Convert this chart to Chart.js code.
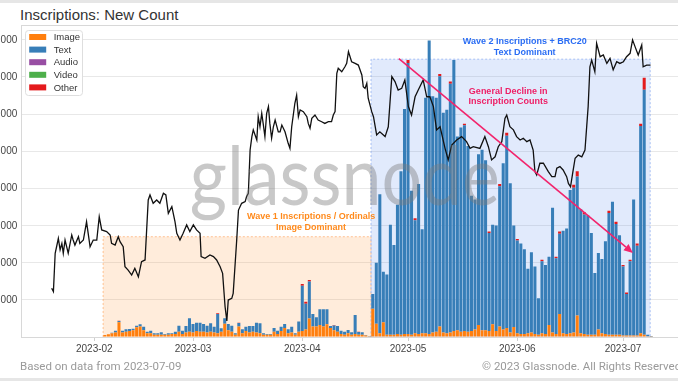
<!DOCTYPE html>
<html>
<head>
<meta charset="utf-8">
<script src="https://cdn.jsdelivr.net/npm/chart.js@4.4.1/dist/chart.umd.min.js"></script>
<style>
  html, body { margin: 0; padding: 0; }
  body { width: 678px; height: 381px; overflow: hidden; background: #e6e6e6; position: relative;
         font-family: "Liberation Sans", Arial, sans-serif; }
  #card { position: absolute; left: 0; top: 3px; width: 678px; height: 375px; background: #fff; }
  #title { position: absolute; left: 20px; top: 6px; font-size: 15px; color: #333; white-space: nowrap; }
  #wrap { position: absolute; left: -59px; top: 0; width: 750px; height: 381px; }
  .foot { position: absolute; top: 359px; font-family: Roboto, sans-serif; font-size: 11.5px; color: #9a9a9a; white-space: nowrap; }
  .ylab { position: absolute; right: 660.7px; font-size: 10px; line-height: 12px; color: #444; white-space: nowrap; text-align: right; }
</style>
</head>
<body>
<div id="card"></div>
<div id="title">Inscriptions: New Count</div>
<div id="wrap"><canvas id="chart" width="750" height="381"></canvas></div>
<div class="foot" style="left:20px">Based on data from 2023-07-09</div>
<div class="foot" style="left:482px">© 2023 Glassnode. All Rights Reserved</div>
<script>
// x axis is day of year 2023 (Jan 1 = 0)
const tickDays   = [31, 59, 90, 120, 151, 181]
const tickLabels = ['2023-02', '2023-03', '2023-04', '2023-05', '2023-06', '2023-07']
const yTicks     = [50000, 100000, 150000, 200000, 250000, 300000, 350000, 400000]

// daily inscriptions, thousands, first bar = 2023-02-04 (day 34)
const barFirstDay = 34
const image = [
  2.7,3.6,5,6,20,6,7,8,9,13, 14,9,5,5,3,3,3,3,3,4, 4,7,4,6,7,6,8,7,7,6, 7,6,5,7,18,9,7,3,14,5,
  8,6,7,6,5,3,3,3,7,4, 8,12,5,6,3,7,8,10,25,14, 14,16,14,17,12,9,7,4,3,5, 3,4,3,3,2,1,
  38,18,5,20,3,3,3,4,3,4, 4,3,5,4,5,5,4,6,7,14, 6,5,6,8,9,7,8,7,8,10, 16,9,9,8,17,8,14,10,12,6,
  13.5,5,4,4,5,6,4,3,5,4, 16,6,4,31,5,4,5,6,29,5, 4,3,3,3,10,5,4,3,3,3, 3,2,2,2,2,2,5,3,1,0.5
]
const text = [
  0,0,0.8,2.5,1.4,2.5,3.3,2.8,2.2,2.3, 3.1,4.9,2.2,3.5,1.9,1.9,3.3,1,1.9,0.9,
  3.2,8.3,4.5,8.8,18.2,11.5,11.3,12.3,10.5,9.3, 11.4,7.9,26.1,4.7,7.2,8.5,8.3,1.9,4.7,5.3,
  5.9,8.8,7.8,13.3,13.4,1.9,1,1,5.1,4.5, 5.9,5.5,5.3,7.9,1.9,13.7,60.9,34.6,49.8,17,
  12.5,21.3,23.3,20.3,2.8,6.5,7.8,4.5,4.2,4.4, 3.3,25.6,3.7,3.3,0.7,0.5,
  20,82,187,68,81,148,121,174,220,303, 365,194,152,202,140,317,395,318,315,337,
  296,301,335,365,261,275,277,250,182,175, 230,243,229,132,134,142,189,224,259,201,
  136.5,125,122,114,87,108,91,49,97,93, 92,168,102,108,138,142,193,195,187,167,
  161,161,137,83,103,100,125,164,179,149, 134,93,56,100,183,121,279,330,2,0.5
]
const other = [
  0,0,0,0,0.6,0,0,0,0,0, 0,0,0,0,0,0,0,0,0,0, 0,0,0,0,0,0,0,0,0,0, 0,0,0.8,0,0,0,0,0,0.6,0,
  0,0,0,0,0,0,0,0,0,0, 0,0,0,0,0,0,2.5,3,2,0, 0,0,0,0,0,0.7,0,0,0,0, 0,0,0.5,0,0,0,
  0,0,0,0,0,0,0,0,0,0, 4,0,3,0,0,0,0,0,0,3, 0,0,3,0,0,0,2,0,0,0, 0,0,0,2,0,0,3,0,4,0,
  0,2,0,0,0,0,0,0,2,0, 0,0,2,3,0,0,0,4,7,0, 3,0,0,0,0,0,0,3,0,3, 0,2,2,2,0,3,3,16,0,0
]

// BTC price overlay (USD)
const priceDay = [
  18.9,19.4,19.9,20.3,20.8,21.3,21.8,22.2,22.7,23.6, 24.6,25.0,25.5,26.5,26.9,27.9,28.8,29.8,30.7,31.7,
  32.4,33.1,34.5,35.5,35.9,36.9,37.8,38.3,39.2,39.7, 40.6,41.6,42.5,43.5,44.4,45.4,46.3,46.8,47.7,48.7,
  49.6,50.6,51.3,52.0,53.0,53.9,54.4,55.3,56.2,57.2, 58.1,59.1,60.0,61.0,61.3,62.4,63.8,64.8,65.7,66.7,
  67.4,68.1,68.6,69.0,70.0,70.4,70.9,71.4,71.9,72.8, 73.8,74.2,74.7,75.2,75.7,76.1,77.1,77.5,78.0,78.5,
  78.9,79.4,79.9,80.4,80.8,81.3,81.8,82.3,83.2,83.7, 84.2,85.1,86.0,86.5,87.0,87.9,88.4,88.9,89.4,90.3,
  91.3,91.7,92.2,92.7,93.6,94.5,95.5,96.4,97.4,98.3, 98.8,99.3,99.8,100.2,101.2,102.1,102.6,103.1,104.0,105.0,
  105.9,106.9,107.3,107.8,108.3,108.7,109.7,110.2,111.1,112.0, 113.5,114.4,115.4,116.3,117.2,118.2,119.1,120.1,121.0,122.0,
  122.9,124.3,125.3,126.2,127.2,128.1,129.1,130.5,131.4,132.4, 133.8,135.2,136.6,137.6,138.5,140.4,141.8,142.8,143.7,144.7,
  145.6,146.6,147.5,148.0,148.9,149.9,150.8,151.8,152.7,153.7, 154.6,155.5,156.0,156.5,157.4,158.4,159.8,160.8,161.7,162.2,
  163.1,164.0,165.0,165.5,166.1,166.7,167.4,168.3,169.3,170.2, 171.1,171.6,172.1,173.0,173.5,174.5,175.4,176.4,177.3,178.2,
  179.2,180.1,181.1,182.0,183.0,183.7,184.4,185.3,186.3,186.7, 187.7,188.8
]
const priceUsd = [
  21030,20890,22490,22760,23110,22630,22900,22490,23040,22490, 23250,23040,22830,23180,22900,23040,23800,22760,23040,23040,
  24010,23460,23390,23250,22900,22830,23180,22970,22760,21930, 21790,21580,21860,21510,22140,22210,24710,24920,24570,24710,
  24570,24990,24920,24150,24430,23800,23320,23040,23320,23670, 23390,23670,23460,23320,22350,22280,22420,22350,22210,21930,
  21650,20260,19670,20540,20610,20820,21930,23040,24290,24570, 24640,24850,24990,26790,27350,27630,27210,28180,27760,28320,
  27900,27350,28320,28600,27900,27280,27760,28040,27550,27550, 27830,27550,27070,26860,27760,28740,29080,28180,28460,28390,
  28180,27900,27700,28110,28250,28040,27970,27900,27970,27970, 28250,28390,29990,30200,30050,30260,30400,30890,30470,30400,
  30330,29920,29430,29360,29570,28950,28390,28180,27420,27550, 27350,27760,29850,29640,29290,29360,29710,28600,28250,29010,
  29290,29710,29010,29010,28600,27630,27760,26860,26380,27000, 27210,27350,27140,26860,26930,26860,27350,26930,26380,26510,
  26930,27140,28110,28250,27760,27630,27350,27210,27280,27140, 27210,26790,25890,25750,26240,26240,25890,25680,25680,26030,
  26100,25960,25680,25400,25260,25820,26450,26580,26510,26790, 28600,30260,30540,30050,31240,30680,30750,30400,30610,30130,
  30470,30400,30470,30680,30820,31380,31100,30750,31170,30260, 30330,30330
]

const colors = { image: '#ff7f0e', text: '#377eb8', audio: '#984ea3', video: '#4daf4a', other: '#e41a1c' }

// annotation layer, in data units (day, inscriptions)
const regions = [
  { from: 33.5, to: 109.5, top: 135000, fill: 'rgba(255,140,40,0.17)', edge: 'rgba(255,150,70,0.55)' },
  { from: 109.5, to: 188.7, top: 374000, fill: 'rgba(80,130,240,0.17)', edge: 'rgba(110,150,235,0.55)' }
]
const notes = [
  { day: 92.5,  values: [161700, 146900], lines: ['Wave 1 Inscriptions / Ordinals', 'Image Dominant'], color: '#ff8a1c' },
  { day: 153.1, values: [397600, 382700], lines: ['Wave 2 Inscriptions + BRC20', 'Text Dominant'], color: '#2a6df4' },
  { day: 148.4, values: [330000, 316700], lines: ['General Decline in', 'Inscription Counts'], color: '#ee1f66' }
]
const arrow = { from: [117.4, 374700], to: [183.8, 113200], color: '#f2246c' }

Chart.defaults.font.family = '"Liberation Sans", Arial, sans-serif'

function barSet(label, vals, color) {
  return {
      type: 'bar'
    , label: label
    , data: vals.map((v, i) => ({ x: barFirstDay + i, y: v * 1000 }))
    , backgroundColor: color
    , borderWidth: 0
    , barPercentage: 0.86
    , categoryPercentage: 1
    , order: 1
  }
}

const decor = {
  id: 'decor',
  beforeDatasetsDraw(chart) {
    const { ctx, scales: { x, y } } = chart
    regions.forEach(r => {
      const l = x.getPixelForValue(r.from), rr = x.getPixelForValue(r.to)
      const t = y.getPixelForValue(r.top), b = y.getPixelForValue(0)
      ctx.save()
      ctx.fillStyle = r.fill
      ctx.fillRect(l, t, rr - l, b - t)
      ctx.strokeStyle = r.edge
      ctx.lineWidth = 1
      ctx.setLineDash([2, 2])
      ctx.beginPath()
      ctx.moveTo(l, b); ctx.lineTo(l, t); ctx.lineTo(rr, t); ctx.lineTo(rr, b)
      ctx.stroke()
      ctx.restore()
    })
  },
  afterDatasetsDraw(chart) {
    const { ctx, chartArea: area, scales: { x, y } } = chart

    // watermark
    ctx.save()
    ctx.font = '82px Lato'
    const w = ctx.measureText('glassnode').width
    ctx.translate((area.left + area.right) / 2 - 6, area.top + 180)
    ctx.scale(310 / w, 1)
    ctx.textAlign = 'center'
    ctx.fillStyle = 'rgba(125,125,125,0.42)'
    ctx.fillText('glassnode', 0, 0)
    ctx.restore()

    // arrow
    const x0 = x.getPixelForValue(arrow.from[0]), y0 = y.getPixelForValue(arrow.from[1])
    const x1 = x.getPixelForValue(arrow.to[0]),   y1 = y.getPixelForValue(arrow.to[1])
    const ang = Math.atan2(y1 - y0, x1 - x0), head = 9
    ctx.save()
    ctx.strokeStyle = arrow.color
    ctx.fillStyle = arrow.color
    ctx.lineWidth = 1.6
    ctx.beginPath()
    ctx.moveTo(x0, y0)
    ctx.lineTo(x1 - head * Math.cos(ang), y1 - head * Math.sin(ang))
    ctx.stroke()
    ctx.beginPath()
    ctx.moveTo(x1, y1)
    ctx.lineTo(x1 - head * Math.cos(ang) + 4 * Math.sin(ang), y1 - head * Math.sin(ang) - 4 * Math.cos(ang))
    ctx.lineTo(x1 - head * Math.cos(ang) - 4 * Math.sin(ang), y1 - head * Math.sin(ang) + 4 * Math.cos(ang))
    ctx.closePath()
    ctx.fill()
    ctx.restore()

    // text notes
    ctx.save()
    ctx.font = 'bold 9px "Liberation Sans", Arial, sans-serif'
    ctx.textAlign = 'center'
    ctx.textBaseline = 'middle'
    notes.forEach(n => {
      ctx.fillStyle = n.color
      n.lines.forEach((s, i) => ctx.fillText(s, x.getPixelForValue(n.day), y.getPixelForValue(n.values[i])))
    })
    ctx.restore()

    // frame
    ctx.save()
    ctx.strokeStyle = '#d8d8d8'
    ctx.lineWidth = 1
    ctx.strokeRect(Math.round(area.left) + 0.5, Math.round(area.top) + 0.5,
                   Math.round(area.right - area.left), Math.round(area.bottom - area.top))
    ctx.restore()

    // legend, top left inside the plot
    const lx = area.left + 4.5, ly = area.top + 5
    ctx.save()
    ctx.fillStyle = 'rgba(255,255,255,0.92)'
    ctx.strokeStyle = '#dedede'
    ctx.lineWidth = 1
    ctx.beginPath()
    ctx.roundRect(Math.round(lx) + 0.5, Math.round(ly) + 0.5, 57, 65, 3)
    ctx.fill()
    ctx.stroke()
    ctx.font = '9.5px "Liberation Sans", Arial, sans-serif'
    ctx.textBaseline = 'middle'
    chart.data.datasets.filter(d => d.type === 'bar').forEach((d, i) => {
      const cy = ly + 7 + i * 12.6
      ctx.fillStyle = d.backgroundColor
      ctx.fillRect(lx + 4, cy - 3, 17, 6)
      ctx.fillStyle = '#333'
      ctx.fillText(d.label, lx + 28.5, cy + 0.5)
    })
    ctx.restore()
  }
}

const chart = new Chart(document.getElementById('chart').getContext('2d'), {
  data: {
    datasets: [
        barSet('Image', image, colors.image)
      , barSet('Text', text, colors.text)
      , { type: 'bar', label: 'Audio', data: [], backgroundColor: colors.audio, order: 1 }
      , { type: 'bar', label: 'Video', data: [], backgroundColor: colors.video, order: 1 }
      , barSet('Other', other, colors.other)
      , {
          type: 'line'
        , label: 'Price'
        , data: priceDay.map((d, i) => ({ x: d, y: priceUsd[i] }))
        , yAxisID: 'y1'
        , borderColor: '#111'
        , borderWidth: 1.3
        , pointRadius: 0
        , tension: 0
        , order: 0
      }
    ]
  },
  options: {
    responsive: false,
    animation: false,
    layout: { padding: { top: 25, right: 10, left: 0, bottom: 0 } },
    plugins: { legend: { display: false }, tooltip: { enabled: false } },
    scales: {
      x: {
        type: 'linear',
        stacked: true,
        offset: false,
        min: 10.12,
        max: 197.44,
        afterFit: s => { s.height = 44 },
        afterBuildTicks: s => { s.ticks = tickDays.map(v => ({ value: v })) },
        ticks: {
          autoSkip: false, maxRotation: 0, padding: 2, color: '#444', font: { size: 10 },
          callback: v => tickLabels[tickDays.indexOf(v)]
        },
        grid: { offset: false, drawOnChartArea: false, tickLength: 4, color: '#cfcfcf' },
        border: { display: false }
      },
      y: {
        stacked: true,
        min: 0,
        max: 420000,
        afterFit: s => { s.width = 79.7 },
        afterBuildTicks: s => { s.ticks = [0].concat(yTicks).map(v => ({ value: v })) },
        ticks: { display: false },
        grid: { color: '#e8e8e8', drawTicks: false },
        border: { display: false }
      },
      y1: { display: false, min: 19000, max: 32000 }
    }
  },
  plugins: [decor]
})

// y tick labels as page text, right aligned just left of the plot frame
const wrapTop = document.getElementById('wrap').offsetTop
yTicks.forEach(v => {
  const el = document.createElement('div')
  el.className = 'ylab'
  el.textContent = v.toLocaleString('en-US')
  el.style.top = (wrapTop + chart.scales.y.getPixelForValue(v) - 6) + 'px'
  document.body.appendChild(el)
})
</script>
</body>
</html>
